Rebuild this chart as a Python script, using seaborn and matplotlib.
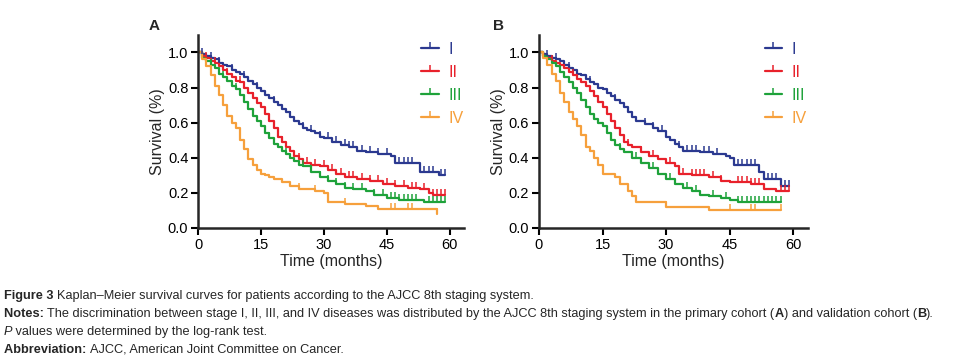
import numpy as np
import pandas as pd
import seaborn as sns
import matplotlib.pyplot as plt
from matplotlib.lines import Line2D

# Kaplan-Meier step points (time in months, survival)
etapas = ["I", "II", "III", "IV"]
colores = ["#2b3990", "#e8212b", "#1ea23a", "#f6a03c"]

# Panel A: primary cohort
a_t_I = [0,1,2,3,4,5,6,7,8,9,10,11,12,13,14,15,16,17,18,19,20,21,22,23,24,25,26,27,28,29,30,32,34,36,38,40,43,46,47,53,57.5,59]
a_s_I = [1.0,0.99,0.98,0.97,0.96,0.94,0.93,0.92,0.90,0.89,0.88,0.86,0.84,0.82,0.80,0.78,0.76,0.74,0.72,0.70,0.68,0.66,0.63,0.61,0.59,0.57,0.56,0.55,0.54,0.52,0.51,0.49,0.47,0.46,0.44,0.43,0.42,0.41,0.37,0.32,0.30,0.30]
a_t_II = [0,1,2,3,4,5,6,7,8,9,10,11,12,13,14,15,16,17,18,19,20,21,22,23,24,25,27,29,31,33,35,38,41,44,47,50,53,55,56,59]
a_s_II = [1.0,0.98,0.97,0.95,0.94,0.92,0.90,0.88,0.86,0.84,0.83,0.80,0.77,0.74,0.71,0.69,0.65,0.61,0.57,0.52,0.49,0.46,0.44,0.41,0.39,0.37,0.36,0.35,0.33,0.31,0.29,0.28,0.27,0.25,0.24,0.23,0.22,0.20,0.19,0.19]
a_t_III = [0,1,2,3,4,5,6,7,8,9,10,11,12,13,14,15,16,17,18,19,20,21,22,23,24,25,27,29,31,33,35,37,40,42,45,48,54,59]
a_s_III = [1.0,0.97,0.95,0.93,0.91,0.88,0.86,0.84,0.81,0.79,0.76,0.72,0.68,0.64,0.61,0.58,0.54,0.51,0.48,0.46,0.44,0.42,0.40,0.38,0.36,0.35,0.32,0.29,0.27,0.25,0.23,0.22,0.21,0.19,0.17,0.16,0.15,0.15]
a_t_IV = [0,1,2,3,4,5,6,7,8,9,10,11,12,13,14,15,16,17,18,20,22,24,28,30,31,35,40,43,57]
a_s_IV = [1.0,0.96,0.92,0.87,0.81,0.76,0.70,0.64,0.60,0.57,0.50,0.45,0.39,0.36,0.33,0.31,0.30,0.29,0.28,0.26,0.24,0.22,0.21,0.20,0.15,0.135,0.125,0.105,0.08]

# Panel B: validation cohort
b_t_I = [0,1,2,3,4,5,6,7,8,9,10,11,12,13,14,15,16,17,18,19,20,21,22,23,25,27,28,30,31,32,33,34,38,41,44,45,46,52,53,57,59]
b_s_I = [1.0,0.99,0.98,0.97,0.96,0.95,0.93,0.91,0.90,0.88,0.87,0.85,0.83,0.82,0.80,0.79,0.77,0.75,0.73,0.71,0.69,0.66,0.63,0.61,0.59,0.57,0.55,0.52,0.50,0.48,0.46,0.44,0.43,0.42,0.41,0.40,0.36,0.32,0.28,0.24,0.24]
b_t_II = [0,1,2,3,4,5,6,7,8,9,10,11,12,13,14,15,16,17,18,19,20,21,22,24,26,28,30,32,33,36,40,43,45,50,53,56,59]
b_s_II = [1.0,0.98,0.97,0.95,0.94,0.93,0.91,0.89,0.87,0.85,0.83,0.81,0.78,0.75,0.72,0.69,0.65,0.61,0.57,0.53,0.49,0.47,0.46,0.43,0.41,0.39,0.37,0.35,0.31,0.30,0.29,0.27,0.26,0.25,0.22,0.21,0.21]
b_t_III = [0,1,2,3,4,5,6,7,8,9,10,11,12,13,14,15,16,17,18,19,20,22,24,26,28,30,32,34,36,38,40,43,45,47,57]
b_s_III = [1.0,0.98,0.96,0.94,0.92,0.89,0.86,0.83,0.80,0.77,0.73,0.69,0.65,0.62,0.60,0.58,0.54,0.50,0.47,0.45,0.43,0.40,0.37,0.34,0.31,0.28,0.25,0.23,0.21,0.19,0.18,0.17,0.16,0.15,0.15]
b_t_IV = [0,1,2,3,4,5,6,7,8,9,10,11,12,13,14,15,18,19,21,22,23,30,40,57]
b_s_IV = [1.0,0.97,0.93,0.88,0.84,0.77,0.72,0.66,0.62,0.58,0.53,0.46,0.44,0.40,0.36,0.31,0.29,0.25,0.21,0.18,0.15,0.12,0.10,0.10]

# censored observations (months)
a_cens = {
    "I": [1,3,5,8,11,14,18,22,25,27,29,31,33,35,36,37,39,41,43,45,48,49,50,51,54,55,56,58,59],
    "II": [2,4,7,10,13,16,20,24,26,28,30,32,34,36,37,39,41,43,45,47,49,51,52,54,56,57,58,59],
    "III": [3,6,9,12,17,21,25,27,29,31,33,35,37,39,42,44,46,47,48,49,50,51,52,55,56,57,58,59],
    "IV": [24,28,35,46,47,50,51,57],
}
b_cens = {
    "I": [2,4,7,12,18,25,27,29,33,35,36,37,39,40,42,47,48,49,50,51,54,55,56,58,59],
    "II": [3,8,14,21,24,27,31,34,36,37,38,39,41,43,47,48,49,50,51,52,57,58,59],
    "III": [5,9,19,23,27,31,35,37,41,44,47,48,49,50,51,52,53,54,55,56,57],
    "IV": [30,45,50,51,57],
}

panel_a = {"I": (a_t_I, a_s_I), "II": (a_t_II, a_s_II), "III": (a_t_III, a_s_III), "IV": (a_t_IV, a_s_IV)}
panel_b = {"I": (b_t_I, b_s_I), "II": (b_t_II, b_s_II), "III": (b_t_III, b_s_III), "IV": (b_t_IV, b_s_IV)}

sns.set_style("ticks")
plt.rcParams['font.family'] = ['Liberation Sans', 'DejaVu Sans']

fig = plt.figure(figsize=(9.58, 3.6), dpi=100)
ax_a = fig.add_axes([0.2067, 0.367, 0.278, 0.536])
ax_b = fig.add_axes([0.5626, 0.367, 0.281, 0.536])

def dibujar(ax, curvas, censuras, letra, lx):
    filas = []
    for e in etapas:
        t, s = curvas[e]
        for ti, si in zip(t, s):
            filas.append({"time": ti, "surv": si, "stage": e})
    df = pd.DataFrame(filas)
    sns.lineplot(data=df, x="time", y="surv", hue="stage", palette=dict(zip(etapas, colores)),
                 drawstyle="steps-post", estimator=None, sort=False, linewidth=1.6,
                 legend=False, ax=ax)
    for e, c in zip(etapas, colores):
        t, s = curvas[e]
        ct = np.array(censuras[e], dtype=float)
        idx = np.searchsorted(np.array(t, dtype=float), ct, side="right") - 1
        cs = np.array(s)[idx]
        ax.plot(ct, cs, linestyle="none", marker=2, markersize=4.5, markeredgewidth=1.1, color=c)

    ax.set_xlim(0, 63.5)
    ax.set_ylim(0, 1.1)
    ax.set_xticks([0, 15, 30, 45, 60])
    ax.set_yticks([0.0, 0.2, 0.4, 0.6, 0.8, 1.0])
    ax.set_yticklabels(["0.0", "0.2", "0.4", "0.6", "0.8", "1.0"])
    ax.tick_params(direction="out", length=5, width=1.5, labelsize=10.5, pad=2, colors="black")
    for sp in ["left", "bottom"]:
        ax.spines[sp].set_linewidth(1.8)
    sns.despine(ax=ax)
    ax.set_xlabel("Time (months)", fontsize=11.5, labelpad=2)
    ax.set_ylabel("Survival (%)", fontsize=11.5, labelpad=2)

    handles = [Line2D([0], [0], color=c, lw=1.6, marker=2, markersize=4.5, markeredgewidth=1.1)
               for c in colores]
    leg = ax.legend(handles, etapas, loc="upper left", bbox_to_anchor=(0.785, 1.04), frameon=False,
                    fontsize=11.5, handlelength=1.1, handletextpad=0.6, labelspacing=0.5, numpoints=1)
    for txt, c in zip(leg.get_texts(), colores):
        txt.set_color(c)
    ax.text(lx, 1.01, letra, transform=ax.transAxes, fontsize=11, fontweight="bold", va="bottom")

dibujar(ax_a, panel_a, a_cens, "A", -0.185)
dibujar(ax_b, panel_b, b_cens, "B", -0.172)

# caption
cap_font = ['Liberation Sans', 'DejaVu Sans']
renderer = fig.canvas.get_renderer()

def linea(y, partes):
    x = 0.004
    for txt, estilo in partes:
        kw = {"fontweight": "bold"} if estilo == "b" else ({"fontstyle": "italic"} if estilo == "i" else {})
        t = fig.text(x, y, txt, fontsize=9.2, family=cap_font, va="baseline", **kw)
        bb = t.get_window_extent(renderer=renderer)
        x += bb.width / fig.bbox.width

linea(1 - 299 / 360, [("Figure 3 ", "b"), ("Kaplan–Meier survival curves for patients according to the AJCC 8th staging system.", "r")])
linea(1 - 317 / 360, [("Notes: ", "b"), ("The discrimination between stage I, II, III, and IV diseases was distributed by the AJCC 8th staging system in the primary cohort (", "r"),
                      ("A", "b"), (") and validation cohort (", "r"), ("B", "b"), (").", "r")])
linea(1 - 335 / 360, [("P", "i"), (" values were determined by the log-rank test.", "r")])
linea(1 - 353 / 360, [("Abbreviation: ", "b"), ("AJCC, American Joint Committee on Cancer.", "r")])

fig.savefig("out.png", dpi=100)
